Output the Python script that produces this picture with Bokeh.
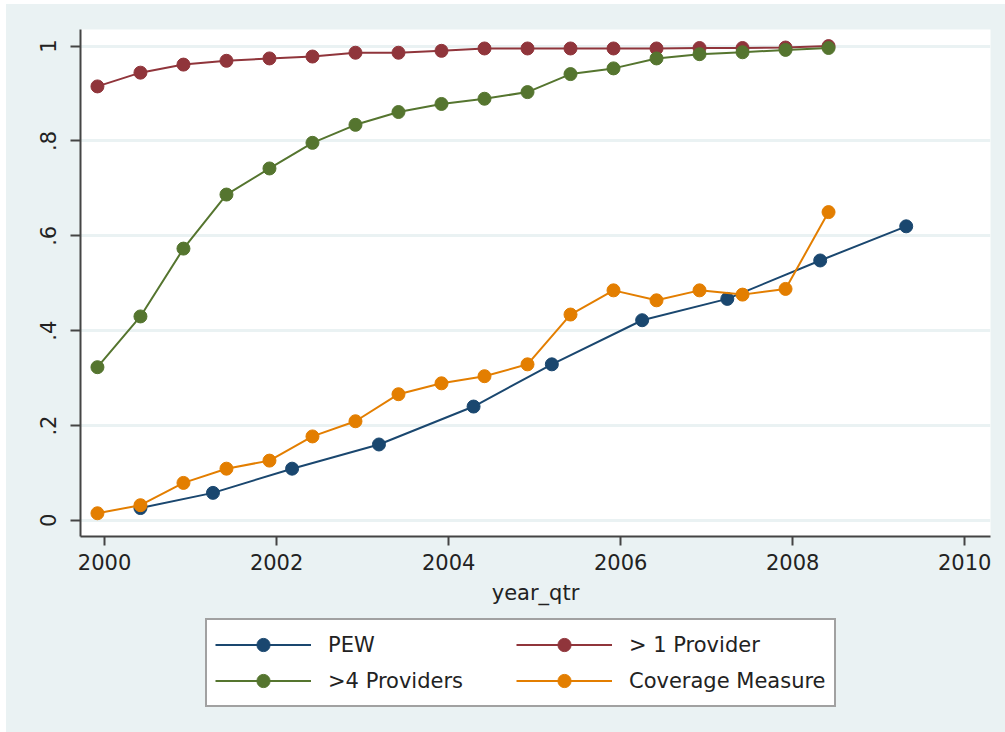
from bokeh.plotting import figure
from bokeh.models import Range1d, FixedTicker, Legend, LegendItem
from bokeh.layouts import column
from bokeh.embed import file_html
from bokeh.resources import INLINE

# Semiannual observation dates (Dec / Jun) and the PEW survey dates
half_years = [1999.917 + 0.5 * i for i in range(18)]
pew_dates = [2000.417, 2001.26, 2002.18, 2003.19, 2004.29,
             2005.20, 2006.25, 2007.24, 2008.32, 2009.32]

pew = [0.026, 0.058, 0.109, 0.160, 0.240, 0.329, 0.422, 0.467, 0.548, 0.620]
more_than_1 = [0.915, 0.944, 0.961, 0.969, 0.974, 0.978, 0.986, 0.986, 0.990,
               0.995, 0.995, 0.995, 0.995, 0.995, 0.996, 0.996, 0.997, 1.000]
more_than_4 = [0.323, 0.430, 0.573, 0.687, 0.742, 0.796, 0.834, 0.861, 0.878,
               0.889, 0.903, 0.941, 0.953, 0.974, 0.983, 0.987, 0.992, 0.996]
coverage = [0.015, 0.032, 0.079, 0.109, 0.126, 0.177, 0.209, 0.266, 0.289,
            0.304, 0.329, 0.434, 0.485, 0.464, 0.485, 0.476, 0.488, 0.650]

x_ticks = [2000, 2002, 2004, 2006, 2008, 2010]
y_ticks = [0, 0.2, 0.4, 0.6, 0.8, 1.0]
y_tick_labels = ["0", ".2", ".4", ".6", ".8", "1"]

NAVY = "#1A476F"
MAROON = "#90353B"
GREEN = "#55752F"
ORANGE = "#E37E00"
BG = "#EAF2F3"
INK = "#222222"
AXIS = "#444444"
FONT = "DejaVu Sans"

series = [
    ("PEW", pew_dates, pew, NAVY),
    ("> 1 Provider", half_years, more_than_1, MAROON),
    (">4 Providers", half_years, more_than_4, GREEN),
    ("Coverage Measure", half_years, coverage, ORANGE),
]

# ---- main chart ----
p = figure(width=999, height=608, output_backend="svg", toolbar_location=None,
           x_range=Range1d(1999.72, 2010.30), y_range=Range1d(-0.034, 1.035),
           min_border_left=74, min_border_right=15, min_border_top=25,
           min_border_bottom=76)
p.background_fill_color = "white"
p.border_fill_color = BG
p.outline_line_color = None

for name, xs, ys, col in series:
    p.line(xs, ys, line_color=col, line_width=2)
    p.scatter(xs, ys, size=13, fill_color=col, line_color=col)

p.xaxis.ticker = FixedTicker(ticks=x_ticks)
p.yaxis.ticker = FixedTicker(ticks=y_ticks)
p.yaxis.major_label_overrides = dict(zip(y_ticks, y_tick_labels))
for ax in (p.xaxis[0], p.yaxis[0]):
    ax.axis_line_color = AXIS
    ax.axis_line_width = 2
    ax.major_tick_line_color = AXIS
    ax.major_tick_line_width = 2
    ax.minor_tick_line_color = None
    ax.major_tick_in = 0
    ax.major_label_text_font = FONT
    ax.major_label_text_font_size = "21px"
    ax.major_label_text_color = INK
p.xaxis.major_tick_out = 9
p.yaxis.major_tick_out = 10
p.xaxis.major_label_standoff = 8
p.yaxis.major_label_standoff = 14
p.yaxis.major_label_orientation = "vertical"
p.xaxis.axis_label = "year_qtr"
p.xaxis.axis_label_text_font = FONT
p.xaxis.axis_label_text_font_size = "21px"
p.xaxis.axis_label_text_font_style = "normal"
p.xaxis.axis_label_text_color = INK
p.xaxis.axis_label_standoff = 8

p.xgrid.grid_line_color = None
p.ygrid.ticker = FixedTicker(ticks=y_ticks)
p.ygrid.grid_line_color = BG
p.ygrid.grid_line_width = 3

# ---- legend strip under the chart ----
# The series are drawn here as well, but the ranges keep them out of view;
# only the legend built from them is visible.
leg = figure(width=999, height=124, output_backend="svg", toolbar_location=None,
             x_axis_type=None, y_axis_type=None,
             x_range=Range1d(0, 1), y_range=Range1d(0, 1),
             min_border=0)
leg.background_fill_color = BG
leg.border_fill_color = BG
leg.outline_line_color = None
leg.xgrid.visible = False
leg.ygrid.visible = False

items = {}
for name, xs, ys, col in series:
    ln = leg.line(xs, ys, line_color=col, line_width=2)
    sc = leg.scatter(xs, ys, size=13, fill_color=col, line_color=col)
    items[name] = LegendItem(label=name, renderers=[ln, sc])

legend = Legend(
    items=[items["PEW"], items["> 1 Provider"],
           items[">4 Providers"], items["Coverage Measure"]],
    ncols=2, orientation="horizontal", location=(125, 29),
    label_text_font=FONT, label_text_font_size="21px", label_text_color=INK,
    glyph_width=96, glyph_height=33, label_height=33, label_standoff=17,
    label_width=185, spacing=3, padding=8, margin=0,
    border_line_color=AXIS, border_line_width=2,
    background_fill_color="white", background_fill_alpha=1.0,
)
leg.add_layout(legend)

layout = column(p, leg, spacing=0, margin=(4, 0, 0, 6),
                styles={"background-color": BG})
open("out.html", "w").write(file_html(layout, INLINE))
